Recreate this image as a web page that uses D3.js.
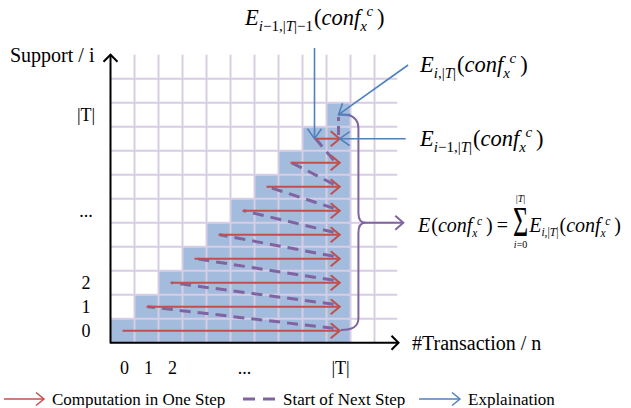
<!DOCTYPE html>
<html><head><meta charset="utf-8">
<script src="https://cdn.jsdelivr.net/npm/d3@7"></script>
<style>body{margin:0;background:#fff}svg{display:block}
text{font-family:"Liberation Serif","Tinos","Times New Roman",Times,"DejaVu Serif",serif}</style>
</head><body>
<svg id="c" width="631" height="408"></svg>
<script>
// ---- data ----
const colHeights = [1,2,3,4,5,6,7,8,9,10];          // blue cells per column (staircase)
const stepRows = [0,1,2,3,4,5,6,7,8];                // rows with a computation arrow
const stepStartCol = [0,1,2,3,4,5,6,7,8];            // start column of each arrow
const stepEndCol = 9;                                // |T|
const xTickPos = [0,1,2,5,9];
const xTickLabels = ["0","1","2","...","|T|"];
const yTickPos = [0,1,2,5,9];
const yTickLabels = ["0","1","2","...","|T|"];
const gridMax = 12;
const legendItems = ["Computation in One Step","Start of Next Step","Explaination"];

(function(){
const RED="#c0504d", PURPLE="#8064a2", BLUE="#4f81bd", CELL="#a3bbdd", GRID="#d7cde5";

const svg = d3.select("#c");
const x = d3.scaleLinear().domain([0, gridMax]).range([110.5, 398.5]);
const y = d3.scaleLinear().domain([0, gridMax]).range([342.7, 54.7]);

// cells
const cells = [];
colHeights.forEach((h,c)=>{ for(let r=0;r<h;r++) cells.push({c,r}); });
svg.append("g").selectAll("rect").data(cells).join("rect")
  .attr("x",d=>x(d.c)).attr("y",d=>y(d.r+1))
  .attr("width",x(1)-x(0)).attr("height",y(0)-y(1))
  .attr("fill",CELL);

// grid
const gg = svg.append("g").attr("stroke",GRID).attr("stroke-width",2);
gg.selectAll("line.v").data(d3.range(1,gridMax)).join("line")
  .attr("x1",d=>x(d)).attr("x2",d=>x(d)).attr("y1",y(0)).attr("y2",y(gridMax));
gg.selectAll("line.h").data(d3.range(1,gridMax)).join("line")
  .attr("x1",x(0)).attr("x2",x(gridMax-0.05)).attr("y1",d=>y(d)).attr("y2",d=>y(d));

function chevron(g, x2, y2, ang, len, half, color, sw){
  const ca=Math.cos(ang), sa=Math.sin(ang);
  const bx=x2-len*ca, by=y2-len*sa;
  const px=-sa*half, py=ca*half;
  g.append("path").attr("d",`M${bx+px},${by+py}L${x2},${y2}L${bx-px},${by-py}`)
    .attr("fill","none").attr("stroke",color).attr("stroke-width",sw).attr("stroke-linejoin","miter");
}
function arrow(g, x1,y1,x2,y2,color,sw,len,half){
  g.append("line").attr("x1",x1).attr("y1",y1).attr("x2",x2).attr("y2",y2)
    .attr("stroke",color).attr("stroke-width",sw);
  chevron(g,x2,y2,Math.atan2(y2-y1,x2-x1),len,half,color,sw);
}

// axes
const ax = svg.append("g");
arrow(ax, x(0), y(0)+0.5, x(0), y(gridMax), "#000", 2, 7, 7);
arrow(ax, x(0)-0.5, y(0), x(gridMax), y(0), "#000", 2, 7, 7);

// dashed "start of next step"
const dg = svg.append("g");
stepRows.forEach((r,i)=>{
  if (i < stepRows.length-1) {
    dg.append("line")
      .attr("x1",x(stepEndCol+0.3)).attr("y1",y(r+0.6))
      .attr("x2",x(stepStartCol[i+1]+0.55)).attr("y2",y(r+1.5))
      .attr("stroke",PURPLE).attr("stroke-width",3).attr("stroke-dasharray","11,7");
  } else {
    dg.append("line")
      .attr("x1",x(stepEndCol+0.5)).attr("y1",y(r+0.65))
      .attr("x2",x(stepEndCol+0.5)).attr("y2",y(r+1.4))
      .attr("stroke",PURPLE).attr("stroke-width",3).attr("stroke-dasharray","9,5");
  }
});

// red computation arrows
const rg = svg.append("g");
stepRows.forEach((r,i)=>{
  arrow(rg, x(stepStartCol[i]+0.5), y(r+0.5), x(stepEndCol+0.55), y(r+0.5), RED, 2, 9, 7.5);
});

// purple brace
const bx = x(10.33), tipY = y(5), pTop = [x(9.5), y(9.5)], pBot=[x(9.6), y(0.53)];
const p = d3.path();
p.moveTo(pTop[0], pTop[1]);
p.bezierCurveTo(pTop[0]+14, pTop[1]-1, bx, pTop[1]+4, bx, pTop[1]+14);
p.lineTo(bx, tipY-10);
p.quadraticCurveTo(bx, tipY, bx+7, tipY);
p.moveTo(bx+7, tipY);
p.quadraticCurveTo(bx, tipY, bx, tipY+10);
p.lineTo(bx, pBot[1]-12);
p.bezierCurveTo(bx, pBot[1]-3, bx-6, pBot[1], pBot[0], pBot[1]);
svg.append("path").attr("d",p.toString()).attr("fill","none").attr("stroke",PURPLE).attr("stroke-width",2);
arrow(svg, bx+6, tipY, x(12.2), tipY, PURPLE, 2, 8, 7);

// blue explanation arrows
const bg = svg.append("g");
arrow(bg, x(8.5), 48, x(8.5), y(8.5), BLUE, 1.6, 10, 7);
arrow(bg, x(12.4), y(11.57), x(9.5), y(9.5), BLUE, 1.6, 10, 7);
arrow(bg, x(12.3), y(8.5), x(9.55), y(8.5), BLUE, 1.6, 10, 7);

// tick labels
const tl = svg.append("g").style("font-size","18px").attr("fill","#000");
tl.selectAll("text.y").data(yTickPos).join("text")
  .attr("x",86).attr("y",d=>y(d+0.5)+6).attr("text-anchor","middle").text((d,i)=>yTickLabels[i]);
tl.selectAll("text.x").data(xTickPos).join("text")
  .attr("x",d=>x(d+0.5)+2).attr("y",374).attr("text-anchor","middle").text((d,i)=>xTickLabels[i]);
svg.append("text").attr("x",10).attr("y",62).style("font-size","20px").text("Support / i");
svg.append("text").attr("x",412).attr("y",350).style("font-size","20px").text("#Transaction / n");

// math helper
function math(parent, x0, y0, parts){
  let cx = x0;
  parts.forEach(q=>{
    const t = parent.append("text").attr("x",cx+(q.dx||0)).attr("y",y0+(q.b||0))
      .style("font-size",q.s+"px")
      .style("font-style",q.it?"italic":"normal").text(q.t);
    cx += (q.dx||0) + t.node().getComputedTextLength() + (q.after||0);
  });
  return cx;
}
function conf(B,S){
  return [
    {t:"(",s:B,dx:1},{t:"conf",s:B,it:true},
    {t:"x",s:S,it:true,b:Math.round(S*0.4),after:-1},{t:"c",s:S,it:true,b:-Math.round(S*0.6),dx:0.5},
    {t:")",s:B,dx:Math.round(B*0.18)}
  ];
}
function sub(B,S,parts){
  const b=Math.round(S*0.38);
  return [{t:"E",s:B,it:true}].concat(parts.map(q=>Object.assign({s:S,b:b},q)));
}
const mg = svg.append("g");
const B1=22.5, S1=15;
math(mg, 245, 25, sub(B1,S1,[{t:"i",it:true},{t:"−1,|"},{t:"T",it:true},{t:"|−1"}]).concat(conf(B1,S1)));
math(mg, 420, 72, sub(B1,S1,[{t:"i",it:true},{t:",|"},{t:"T",it:true},{t:"|"}]).concat(conf(B1,S1)));
math(mg, 420, 146, sub(B1,S1,[{t:"i",it:true},{t:"−1,|"},{t:"T",it:true},{t:"|"}]).concat(conf(B1,S1)));
// sum formula
const B2=20, S2=11.5;
let ex = math(mg, 418, 232, [{t:"E",s:B2,it:true}].concat(conf(B2,S2)).concat([{t:"=",s:B2,dx:4,after:5}]));
const sig = mg.append("text").attr("transform",`translate(${ex},236) scale(0.62,1)`)
  .style("font-size","42px").text("Σ");
const sw = sig.node().getComputedTextLength()*0.62;
mg.append("text").attr("x",ex+sw/2).attr("y",202).attr("text-anchor","middle")
  .style("font-size","10px").html('|<tspan font-style="italic">T</tspan>|');
mg.append("text").attr("x",ex+sw/2).attr("y",248).attr("text-anchor","middle")
  .style("font-size","10px").html('<tspan font-style="italic">i</tspan>=0');
math(mg, ex+sw+1, 232, sub(B2,S2,[{t:"i",it:true},{t:",|"},{t:"T",it:true},{t:"|"}]).concat(conf(B2,S2)));

// legend
const lg = svg.append("g");
const LY = 399;
arrow(lg, 4, LY, 44, LY, RED, 1.5, 8, 6.5);
lg.append("text").attr("x",52).attr("y",LY+6).style("font-size","17px").text(legendItems[0]);
lg.append("line").attr("x1",243).attr("x2",276).attr("y1",LY).attr("y2",LY).attr("stroke",PURPLE).attr("stroke-width",3).attr("stroke-dasharray","12,8");
lg.append("text").attr("x",283).attr("y",LY+6).style("font-size","17px").text(legendItems[1]);
arrow(lg, 419, LY, 460, LY, BLUE, 1.5, 8, 6.5);
lg.append("text").attr("x",468).attr("y",LY+6).style("font-size","17px").text(legendItems[2]);
})();
</script>
</body></html>
